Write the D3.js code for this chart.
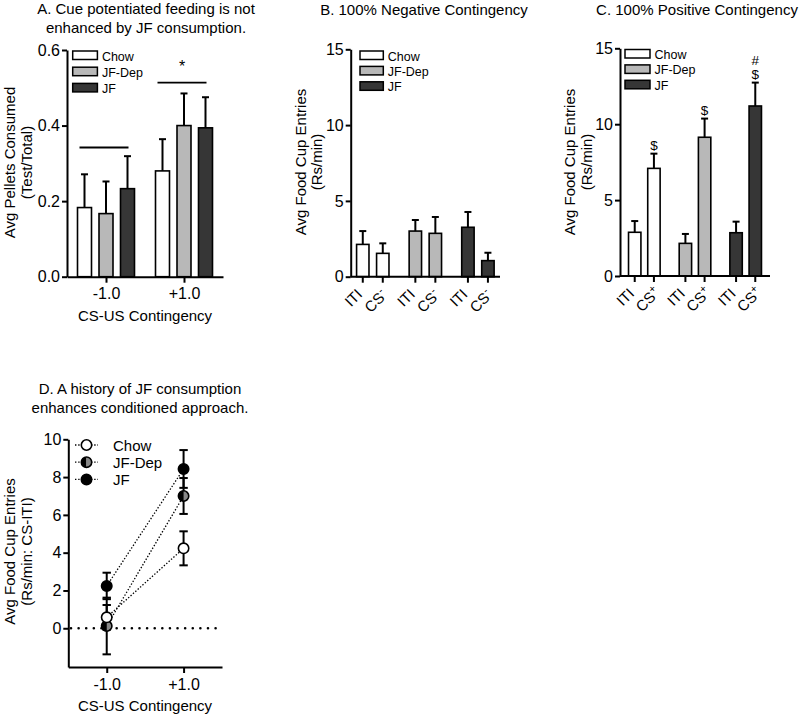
<!DOCTYPE html>
<html><head><meta charset="utf-8">
<script src="https://cdn.jsdelivr.net/npm/d3@7"></script>
<style>
body{margin:0;background:#fff}
svg{display:block}
text{font-family:"Liberation Sans",Arial,Helvetica,sans-serif;fill:#000}
</style>
</head><body><svg id="c" width="800" height="719"></svg>
<script>
// ---------------- DATA ----------------
const seriesNames = ["Chow", "JF-Dep", "JF"];
const contingencyLabels = ["-1.0", "+1.0"];

// Panel A: Avg pellets consumed (Test/Total), per series, per contingency
const pelletMeans = [[0.183, 0.280], [0.167, 0.400], [0.233, 0.394]];
const pelletErrs  = [[0.088, 0.084], [0.085, 0.085], [0.086, 0.081]];
const pelletSigLevels = [0.342, 0.5135];
const pelletSigMarks  = ["", "*"];
const pelletTicks = [0, 0.2, 0.4, 0.6];

// Panel B: 100% negative contingency (Rs/min), per series: [ITI, CS-]
const negPhases = ["ITI", "CS-"];
const negMeans = [[2.13, 1.54], [3.01, 2.86], [3.26, 1.06]];
const negErrs  = [[0.88, 0.66], [0.73, 1.08], [1.01, 0.52]];

// Panel C: 100% positive contingency (Rs/min), per series: [ITI, CS+]
const posPhases = ["ITI", "CS+"];
const posMeans = [[2.88, 7.09], [2.15, 9.14], [2.85, 11.2]];
const posErrs  = [[0.74, 0.97], [0.62, 1.23], [0.73, 1.54]];
const posMarks = [["", "$"], ["", "$"], ["", "#$"]];
const entryTicks = [0, 5, 10, 15];

// Panel D: CS-ITI difference, per series, per contingency
const diffMeans = [[0.58, 4.23], [0.12, 7.00], [2.24, 8.43]];
const diffErrs  = [[0.65, 0.90], [1.50, 0.95], [0.70, 1.00]];
const diffTicks = [0, 2, 4, 6, 8, 10];

// ---------------- STYLE ----------------
const barFills = {"Chow": "#ffffff", "JF-Dep": "#b8b8b8", "JF": "#363636"};
const FONT_TICK = 16, FONT_TITLE = 15, FONT_LEG = 12.5;
const INK = "#000";

const svg = d3.select("#c");
svg.append("rect").attr("width", 800).attr("height", 719).attr("fill", "#fff");

function styleAxis(g, fs) {
  g.selectAll(".domain").attr("stroke", INK).attr("stroke-width", 2);
  g.selectAll(".tick line").attr("stroke", INK).attr("stroke-width", 2);
  g.selectAll(".tick text").attr("font-size", fs).attr("fill", INK)
    .attr("font-family", '"Liberation Sans",Arial,sans-serif');
}

function yTitle(lines, x0, x1, cy) {
  const t = svg.append("g").attr("transform", `translate(0,${cy})`);
  [x0, x1].forEach((bx, i) => {
    t.append("text").attr("transform", `translate(${bx},0) rotate(-90)`)
      .attr("text-anchor", "middle").attr("font-size", FONT_TITLE).text(lines[i]);
  });
}

function title(lines, cx, y0, lh) {
  lines.forEach((l, i) => svg.append("text").attr("x", cx).attr("y", y0 + i * lh)
    .attr("text-anchor", "middle").attr("font-size", FONT_TITLE).text(l));
}

function barLegend(x, y0, step, w) {
  const g = svg.append("g");
  seriesNames.forEach((s, i) => {
    g.append("rect").attr("x", x).attr("y", y0 + i * step).attr("width", w).attr("height", 8.5)
      .attr("fill", barFills[s]).attr("stroke", INK).attr("stroke-width", 1.5);
    g.append("text").attr("x", x + w + 4.5).attr("y", y0 + i * step + 9.5)
      .attr("font-size", FONT_LEG).text(s);
  });
}

function drawBars(g, items, y, bw) {
  g.selectAll("rect.bar").data(items).join("rect").attr("class", "bar")
    .attr("x", d => d.cx - bw / 2).attr("width", bw)
    .attr("y", d => y(d.mean)).attr("height", d => y(0) - y(d.mean))
    .attr("fill", d => d.fill).attr("stroke", INK).attr("stroke-width", 1.6);
  g.selectAll("line.err").data(items).join("line").attr("class", "err")
    .attr("x1", d => d.cx).attr("x2", d => d.cx)
    .attr("y1", d => y(d.mean)).attr("y2", d => y(d.mean + d.err))
    .attr("stroke", INK).attr("stroke-width", 2);
  g.selectAll("line.cap").data(items).join("line").attr("class", "cap")
    .attr("x1", d => d.cx - 3.5).attr("x2", d => d.cx + 3.5)
    .attr("y1", d => y(d.mean + d.err)).attr("y2", d => y(d.mean + d.err))
    .attr("stroke", INK).attr("stroke-width", 2);
}

// ================= PANEL A =================
{
  const yA = d3.scaleLinear().domain([0, 0.6]).range([276.7, 50]);
  const xA = d3.scalePoint().domain(contingencyLabels).range([67, 223]).padding(0.5);
  const oA = d3.scaleBand().domain(seriesNames).range([-32.25, 32.25])
    .paddingInner(0.349).paddingOuter(0.1745);
  const g = svg.append("g");
  const items = [];
  seriesNames.forEach((s, si) => contingencyLabels.forEach((c, ci) => items.push({
    cx: xA(c) + oA(s) + oA.bandwidth() / 2, mean: pelletMeans[si][ci], err: pelletErrs[si][ci], fill: barFills[s]
  })));
  drawBars(g, items, yA, oA.bandwidth());

  const ya = svg.append("g").attr("transform", "translate(67,0)")
    .call(d3.axisLeft(yA).tickValues(pelletTicks).tickFormat(d3.format(".1f")).tickSize(5).tickSizeOuter(0).tickPadding(2));
  styleAxis(ya, FONT_TICK);
  const xa = svg.append("g").attr("transform", `translate(0,${yA(0)})`)
    .call(d3.axisBottom(xA).tickSize(6).tickSizeOuter(0).tickPadding(5));
  styleAxis(xa, FONT_TICK);

  contingencyLabels.forEach((c, ci) => {
    const x1 = xA(c) + oA(seriesNames[0]) + 2;
    const x2 = xA(c) + oA(seriesNames[2]) + oA.bandwidth() / 2 + 1;
    svg.append("line").attr("x1", x1).attr("x2", x2)
      .attr("y1", yA(pelletSigLevels[ci])).attr("y2", yA(pelletSigLevels[ci]))
      .attr("stroke", INK).attr("stroke-width", 1.8);
    if (pelletSigMarks[ci]) svg.append("text").attr("x", (x1 + x2) / 2).attr("y", yA(pelletSigLevels[ci]) - 10.5)
      .attr("text-anchor", "middle").attr("font-size", 16).text(pelletSigMarks[ci]);
  });

  barLegend(72.7, 51, 16.2, 24.7);
  title(["A. Cue potentiated feeding is not", "enhanced by JF consumption."], 146, 14, 19);
  yTitle(["Avg Pellets Consumed", "(Test/Total)"], 14.5, 32, 162.5);
  svg.append("text").attr("x", 145).attr("y", 320.5).attr("text-anchor", "middle")
    .attr("font-size", FONT_TITLE).text("CS-US Contingency");
}

// ================= PANEL B & C =================
function phasePanel(cfg) {
  const y = d3.scaleLinear().domain([0, 15]).range([cfg.y0, cfg.y15]);
  const x = d3.scalePoint().domain(seriesNames).range([cfg.xL, cfg.xR]).padding(cfg.pad);
  const o = d3.scaleBand().domain(cfg.phases).range([-cfg.half, cfg.half])
    .paddingInner(cfg.pin).paddingOuter(cfg.pin / 2);
  const g = svg.append("g");
  const items = [];
  seriesNames.forEach((s, si) => cfg.phases.forEach((p, pi) => items.push({
    cx: x(s) + o(p) + o.bandwidth() / 2, mean: cfg.means[si][pi], err: cfg.errs[si][pi],
    fill: barFills[s], label: p, mark: cfg.marks ? cfg.marks[si][pi] : ""
  })));
  drawBars(g, items, y, o.bandwidth());

  const ya = svg.append("g").attr("transform", `translate(${cfg.xL},0)`)
    .call(d3.axisLeft(y).tickValues(entryTicks).tickSize(5).tickSizeOuter(0).tickPadding(2));
  styleAxis(ya, FONT_TICK);
  svg.append("line").attr("x1", cfg.xL).attr("x2", cfg.xR).attr("y1", y(0)).attr("y2", y(0))
    .attr("stroke", INK).attr("stroke-width", 2);
  svg.selectAll(null).data(items).join("line")
    .attr("x1", d => d.cx).attr("x2", d => d.cx).attr("y1", y(0)).attr("y2", y(0) + 6)
    .attr("stroke", INK).attr("stroke-width", 2);
  items.forEach(d => {
    if (d.label === "ITI") {
      svg.append("g").attr("transform", `translate(${d.cx + 0.5},${y(0) + 18.5}) rotate(-45)`)
        .append("text").attr("text-anchor", "end").attr("font-size", 15).text("ITI");
    } else {
      const lg = svg.append("g").attr("transform", `translate(${d.cx + 2.7},${y(0) + 22}) rotate(-45)`);
      lg.append("text").attr("text-anchor", "end").attr("font-size", 15).text("CS");
      lg.append("text").attr("text-anchor", "start").attr("x", 0.3).attr("y", -6)
        .attr("font-size", 10.5).text(d.label.slice(2));
    }
  });
  items.filter(d => d.mark).forEach(d => {
    const chars = d.mark.split("");
    chars.reverse().forEach((ch, k) => {
      svg.append("text").attr("x", d.cx).attr("y", y(d.mean + d.err) - 4 - k * 13.7)
        .attr("text-anchor", "middle").attr("font-size", 13.5).text(ch);
    });
  });
  barLegend(cfg.legX, cfg.legY, cfg.legStep, cfg.legW);
  title([cfg.title], cfg.titleX, 15, 0);
  yTitle(["Avg Food Cup Entries", "(Rs/min)"], cfg.labX0, cfg.labX1, 162);
}

phasePanel({
  y0: 276.7, y15: 49.3, xL: 350.7, xR: 500, pad: 0.42, half: 20, pin: 0.38,
  phases: negPhases, means: negMeans, errs: negErrs, marks: null,
  legX: 360, legY: 51, legStep: 15.4, legW: 23.3,
  title: "B. 100% Negative Contingency", titleX: 424, labX0: 306, labX1: 322
});
phasePanel({
  y0: 276, y15: 48.3, xL: 620, xR: 770, pad: 0.48, half: 19.2, pin: 0.354,
  phases: posPhases, means: posMeans, errs: posErrs, marks: posMarks,
  legX: 625, legY: 49.5, legStep: 15.4, legW: 25,
  title: "C. 100% Positive Contingency", titleX: 697, labX0: 575, labX1: 592
});

// ================= PANEL D =================
{
  const yD = d3.scaleLinear().domain([-2.05, 10]).range([667, 439.3]);
  const xD = d3.scalePoint().domain(contingencyLabels).range([68.3, 222]).padding(0.5);
  const g = svg.append("g");

  g.append("line").attr("x1", 71).attr("x2", 222).attr("y1", yD(0)).attr("y2", yD(0))
    .attr("stroke", INK).attr("stroke-width", 2.6).attr("stroke-linecap", "round")
    .attr("stroke-dasharray", "0.01 7.6");

  seriesNames.forEach((s, si) => {
    g.append("line").attr("x1", xD(contingencyLabels[0])).attr("x2", xD(contingencyLabels[1]))
      .attr("y1", yD(diffMeans[si][0])).attr("y2", yD(diffMeans[si][1]))
      .attr("stroke", INK).attr("stroke-width", 1.3).attr("stroke-dasharray", "1.4 1.8");
  });
  seriesNames.forEach((s, si) => contingencyLabels.forEach((c, ci) => {
    const cx = xD(c), m = diffMeans[si][ci], e = diffErrs[si][ci];
    g.append("line").attr("x1", cx).attr("x2", cx).attr("y1", yD(m - e)).attr("y2", yD(m + e))
      .attr("stroke", INK).attr("stroke-width", 2);
    [m - e, m + e].forEach(v => g.append("line").attr("x1", cx - 4.2).attr("x2", cx + 4.2)
      .attr("y1", yD(v)).attr("y2", yD(v)).attr("stroke", INK).attr("stroke-width", 2));
  }));

  function marker(gg, s, cx, cy) {
    const r = 5.2;
    if (s === "Chow") {
      gg.append("circle").attr("cx", cx).attr("cy", cy).attr("r", r).attr("fill", "#fff")
        .attr("stroke", INK).attr("stroke-width", 1.6);
    } else if (s === "JF") {
      gg.append("circle").attr("cx", cx).attr("cy", cy).attr("r", r).attr("fill", "#000")
        .attr("stroke", INK).attr("stroke-width", 1.6);
    } else {
      gg.append("path").attr("d", `M${cx},${cy - r} A${r},${r} 0 0 0 ${cx},${cy + r} Z`).attr("fill", "#000");
      gg.append("path").attr("d", `M${cx},${cy - r} A${r},${r} 0 0 1 ${cx},${cy + r} Z`).attr("fill", "#888");
      gg.append("circle").attr("cx", cx).attr("cy", cy).attr("r", r).attr("fill", "none")
        .attr("stroke", INK).attr("stroke-width", 1.6);
    }
  }
  ["JF-Dep", "JF", "Chow"].forEach(s => {
    const si = seriesNames.indexOf(s);
    contingencyLabels.forEach((c, ci) => marker(g, s, xD(c), yD(diffMeans[si][ci])));
  });

  const ya = svg.append("g").attr("transform", "translate(68.3,0)")
    .call(d3.axisLeft(yD).tickValues(diffTicks).tickSize(5).tickSizeOuter(0).tickPadding(2));
  styleAxis(ya, FONT_TICK);
  const xa = svg.append("g").attr("transform", `translate(0,${yD.range()[0]})`)
    .call(d3.axisBottom(xD).tickSize(6).tickSizeOuter(0).tickPadding(6));
  styleAxis(xa, FONT_TICK);

  const lg = svg.append("g");
  seriesNames.forEach((s, i) => {
    const ly = 445 + i * 17.2;
    lg.append("line").attr("x1", 75).attr("x2", 98).attr("y1", ly).attr("y2", ly)
      .attr("stroke", INK).attr("stroke-width", 1.3).attr("stroke-dasharray", "1.4 1.8");
    marker(lg, s, 86.5, ly);
    lg.append("text").attr("x", 113).attr("y", ly + 5.5).attr("font-size", 15).text(s);
  });

  title(["D. A history of JF consumption", "enhances conditioned approach."], 140, 393.5, 19.5);
  yTitle(["Avg Food Cup Entries", "(Rs/min: CS-ITI)"], 14.5, 32, 551.5);
  svg.append("text").attr("x", 145).attr("y", 711).attr("text-anchor", "middle")
    .attr("font-size", FONT_TITLE).text("CS-US Contingency");
}
</script>
</body></html>
